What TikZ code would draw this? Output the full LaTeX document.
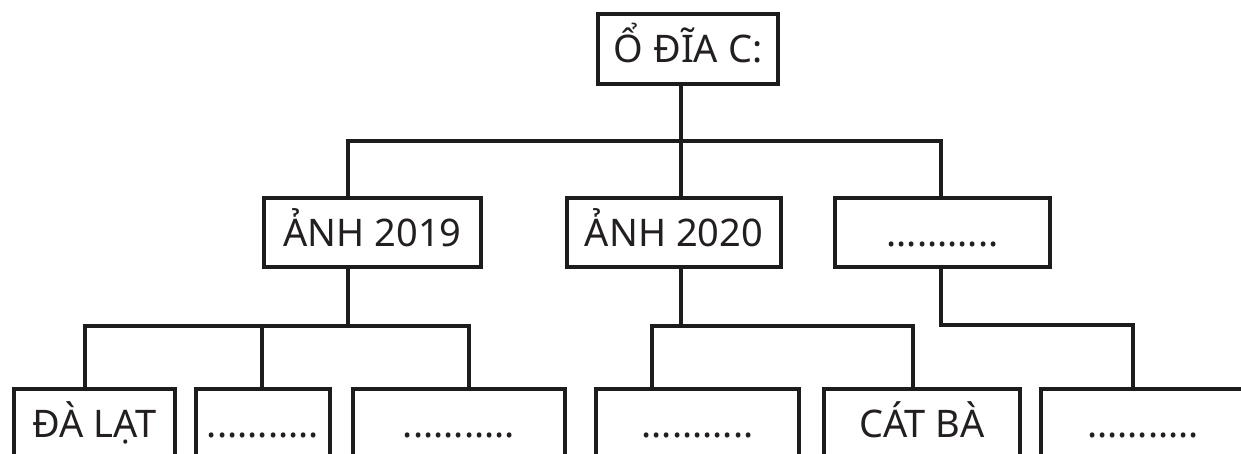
\documentclass[tikz,border=0pt]{standalone}
\usepackage{fontspec}
\setmainfont{Noto Sans}
\definecolor{lc}{HTML}{1C1C1C}
\definecolor{tc}{HTML}{231F20}
\newcommand{\blankdots}{{\bfseries ...........}}
\begin{document}
\begin{tikzpicture}[x=1pt,y=-1pt,
  box/.style={draw=lc, line width=4pt, inner sep=0pt, text=tc,
    font=\fontsize{38}{40}\selectfont, text height=28pt, text depth=0pt, align=center},
  leaf/.style={box, anchor=north, minimum height=140pt, text depth=72pt},
  conn/.style={draw=lc, line width=4pt, line join=miter}]
\clip (0,0) rectangle (1241,454);
\fill[white] (0,0) rectangle (1241,454);
% nodes
\node[box, minimum width=180pt, minimum height=70pt] (top) at (688,49) {Ổ ĐĨA C:};
\node[box, minimum width=217pt, minimum height=69pt] (a19) at (372.5,232.5) {ẢNH 2019};
\node[box, minimum width=214pt, minimum height=69pt] (a20) at (674,232.5) {ẢNH 2020};
\node[box, minimum width=215pt, minimum height=69pt] (a21) at (942.5,232.5) {\blankdots};
\node[leaf, minimum width=161pt] (d1) at (94.5,387) {ĐÀ LẠT};
\node[leaf, minimum width=134pt] (d2) at (263,387) {\blankdots};
\node[leaf, minimum width=212pt] (d3) at (459,387) {\blankdots};
\node[leaf, minimum width=203pt] (d4) at (697.5,387) {\blankdots};
\node[leaf, minimum width=196pt] (d5) at (922,387) {CÁT BÀ};
\node[leaf, minimum width=204pt] (d6) at (1143,387) {\blankdots};
% junctions
\coordinate (sA) at (348,141);
\coordinate (sB) at (681,141);
\coordinate (sC) at (941,141);
\coordinate (bA) at (348,326);
\coordinate (v1) at (85,326);
\coordinate (v2) at (262,326);
\coordinate (v3) at (469,326);
\coordinate (bB) at (681,326);
\coordinate (v4) at (652,326);
\coordinate (v5) at (913,326);
\coordinate (bC) at (941,325);
\coordinate (v6) at (1133,325);
% level 1
\draw[conn] (top.south -| sB) -- (a20.north -| sB);
\draw[conn] (a19.north -| sA) -- (sA) -- (sC) -- (a21.north -| sC);
% level 2: A
\draw[conn] (a19.south -| bA) -- (bA);
\draw[conn] (d1.north -| v1) -- (v1) -- (v3) -- (d3.north -| v3);
\draw[conn] (v2) -- (d2.north -| v2);
% level 2: B
\draw[conn] (a20.south -| bB) -- (bB);
\draw[conn] (d4.north -| v4) -- (v4) -- (v5) -- (d5.north -| v5);
% level 2: C
\draw[conn] (a21.south -| bC) -- (bC) -- (v6) -- (d6.north -| v6);
\end{tikzpicture}
\end{document}
